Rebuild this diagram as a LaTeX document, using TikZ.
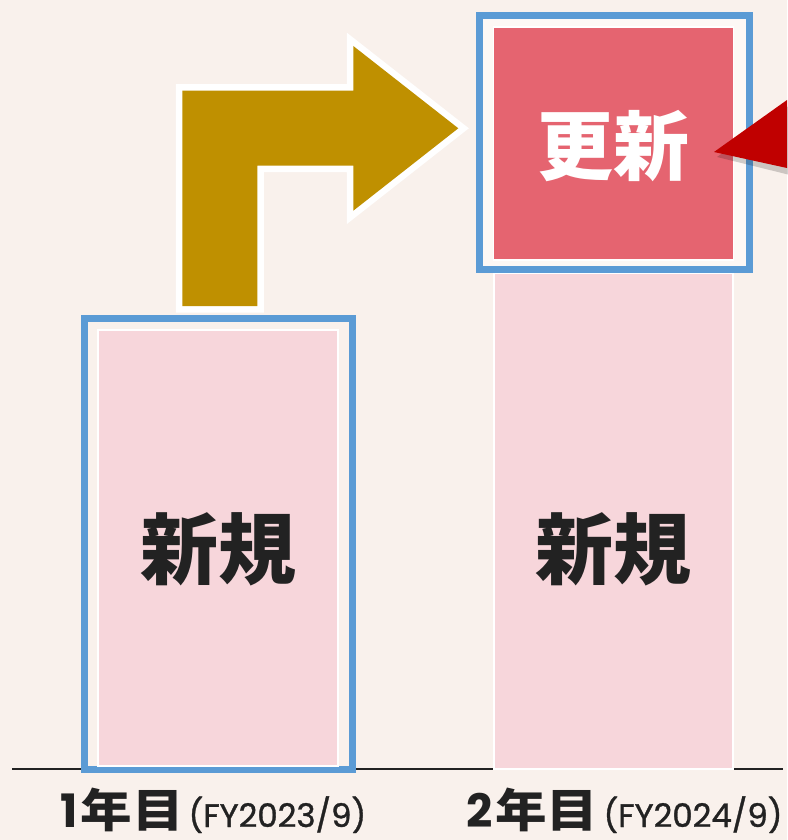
\documentclass[tikz,border=0pt]{standalone}
\usepackage{fontspec}
\usetikzlibrary{calc}
\newfontfamily\jp{Noto Sans CJK JP}
\newfontfamily\pop{Poppins}
\newfontfamily\popm{Poppins}[FakeBold=1.0]
\definecolor{bgc}{RGB}{249,241,236}
\definecolor{bgin}{RGB}{253,248,245}
\definecolor{framec}{RGB}{91,155,213}
\definecolor{pinkc}{RGB}{247,214,219}
\definecolor{redc}{RGB}{229,100,112}
\definecolor{goldc}{RGB}{191,144,0}
\definecolor{darkred}{RGB}{192,0,0}
\definecolor{inkc}{RGB}{34,34,34}
\newcommand{\yrtext}[2]{{\pop\bfseries\fontsize{46}{46}\selectfont #1}\hspace{3pt}\scalebox{1.12}[1]{\jp\bfseries\fontsize{46}{46}\selectfont 年目}\hspace{5pt}{\popm\fontsize{32.5}{32.5}\selectfont (#2)}}
\begin{document}
\begin{tikzpicture}[x=1pt,y=-1pt,
  pinkbar/.style={fill=pinkc,draw=white,line width=2.5pt,inner sep=0pt},
  blueframe/.style={draw=framec,line width=7pt,inner sep=0pt},
  redbox/.style={fill=redc,draw=white,line width=1.5pt,inner sep=0pt},
  bigjp/.style={inner sep=0pt,font=\jp\bfseries\fontsize{78}{78}\selectfont,text=inkc},
  whitejp/.style={inner sep=0pt,font=\jp\bfseries\fontsize{76}{76}\selectfont,text=white},
  axisline/.style={draw=inkc,line width=2.5pt},
  yearlabel/.style={inner sep=0pt,anchor=base west,text=inkc},
  bendarrow/.style={fill=goldc,preaction={draw=white,line width=13pt,line join=miter}},
  pointer/.style={fill=darkred}
]
\useasboundingbox (0,0) rectangle (787,840);
\fill[bgc] (0,0) rectangle (787,840);
% axis
\coordinate (axL) at (12,769);
\coordinate (axR) at (783,769);
\draw[axisline] (axL) -- (axR);
% bar 2 (pink, full)
\node[pinkbar,minimum width=239pt,minimum height=496pt] (bar2) at (613.5,521) {};
\node[bigjp] (new2) at (613.5,549) {新規};
% bar 1
\node[blueframe,minimum width=268pt,minimum height=451pt] (frame1) at (218.5,544) {};
\node[pinkbar,minimum width=240pt,minimum height=436pt] (bar1) at (218,548) {};
\node[bigjp] (new1) at (218,549) {新規};
% renewal box
\node[blueframe,fill=bgin,minimum width=270pt,minimum height=254pt] (frame2) at (614.3,142.3) {};
\node[redbox,minimum width=240pt,minimum height=232.7pt] (renew) at (613.3,143.6) {};
\node[whitejp] (renewtxt) at (613.3,146) {更新};
% bent arrow
\fill[bendarrow] (182.3,306) -- (182.3,90.7) -- (353.3,90.7) -- (353.3,46) -- (458.3,128.3)
  -- (353.3,210.7) -- (353.3,165.7) -- (257.3,165.7) -- (257.3,306) -- cycle;
% pointer
\coordinate (tip) at (714,152);
\fill[black,opacity=0.18] ($(tip)+(3,5)$) -- (790,105) -- (790,175) -- cycle;
\fill[pointer] (tip) -- (787,100) -- (787,168) -- cycle;
% labels
\node[yearlabel] (year1) at (60,827) {\yrtext{1}{FY2023/9}};
\node[yearlabel] (year2) at (466,827) {\yrtext{2}{FY2024/9}};
\end{tikzpicture}
\end{document}
